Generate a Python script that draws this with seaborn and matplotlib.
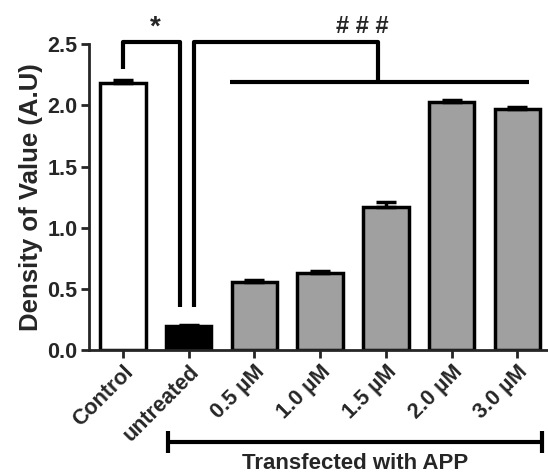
import numpy as np
import pandas as pd
import matplotlib
matplotlib.use("Agg")
import matplotlib.pyplot as plt
import seaborn as sns

# values
groups = ["Control", "untreated", "0.5 µM", "1.0 µM", "1.5 µM", "2.0 µM", "3.0 µM"]
density = [2.18, 0.20, 0.56, 0.63, 1.17, 2.03, 1.97]
sem = [0.03, 0.005, 0.015, 0.02, 0.04, 0.01, 0.02]
colors = ["#ffffff", "#000000", "#a0a0a0", "#a0a0a0", "#a0a0a0", "#a0a0a0", "#a0a0a0"]

sns.set_style("ticks")
plt.rcParams['font.family'] = ['Liberation Sans', 'DejaVu Sans']
plt.rcParams['font.weight'] = 'bold'

df = pd.DataFrame({"group": groups, "density": density})

fig = plt.figure(figsize=(5.48, 4.75), dpi=100)
ax = fig.add_axes([0.162, 0.263, 0.836, 0.644])

sns.barplot(data=df, x="group", y="density", hue="group", palette=colors,
            width=0.69, edgecolor="black", linewidth=2.5, legend=False, ax=ax)

# upper-only error bars
xs = np.arange(len(groups))
ax.errorbar(xs, density, yerr=[np.zeros(len(sem)), sem], fmt="none",
            ecolor="black", elinewidth=2.5, capsize=7, capthick=2.5)

ax.set_ylim(0, 2.5)
ax.set_xlim(-0.52, 6.45)
ax.set_yticks([0, 0.5, 1.0, 1.5, 2.0, 2.5])
ax.set_yticklabels(["0.0", "0.5", "1.0", "1.5", "2.0", "2.5"])
ax.set_xlabel("")
ax.set_ylabel("Density of Value (A.U)", fontsize=18.5, fontweight="bold", labelpad=3)
ax.tick_params(axis="both", width=2, length=6, labelsize=15.5, pad=2)
ax.set_xticks(xs)
ax.set_xticklabels(groups, rotation=45, ha="right", rotation_mode="anchor",
                   fontsize=15.5, fontweight="bold")
sns.despine(ax=ax)
for s in ["left", "bottom"]:
    ax.spines[s].set_linewidth(2)

lk = dict(color="black", lw=3, clip_on=False, solid_capstyle="butt")
# * bracket: Control vs untreated
ax.plot([0, 0, 0.87, 0.87], [2.3, 2.52, 2.52, 0.35], **lk)
ax.text(0.49, 2.53, "*", ha="center", va="bottom", fontsize=20, fontweight="bold")
# ### bracket: untreated vs treated doses
ax.plot([1.08, 1.08, 3.88, 3.88], [0.35, 2.52, 2.52, 2.19], **lk)
ax.plot([1.63, 6.18], [2.19, 2.19], **lk)
ax.text(3.64, 2.55, "# # #", ha="center", va="bottom", fontsize=17, fontweight="bold")

# "Transfected with APP" span under the dose labels
tr = ax.get_xaxis_transform()
ax.plot([0.69, 6.37], [-0.3, -0.3], transform=tr, **lk)
ax.plot([0.69, 0.69], [-0.335, -0.265], transform=tr, **lk)
ax.plot([6.37, 6.37], [-0.335, -0.265], transform=tr, **lk)
ax.text(3.53, -0.335, "Transfected with APP", transform=tr, ha="center", va="top",
        fontsize=16, fontweight="bold")

fig.savefig("out.png", dpi=100)
